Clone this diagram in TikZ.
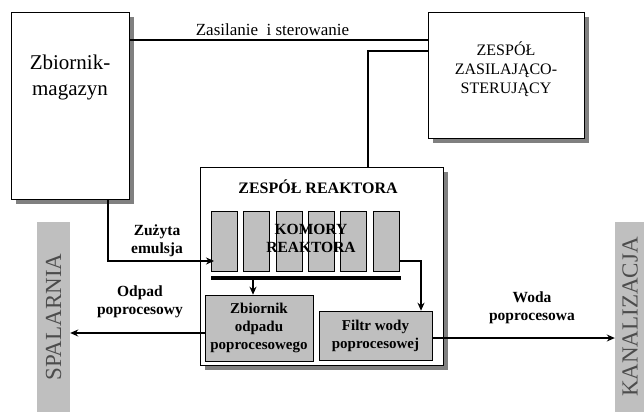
\documentclass[tikz,border=0pt]{standalone}
\usepackage{fontspec}
\setmainfont{Liberation Serif}
\usetikzlibrary{arrows.meta,shadows}
\tikzstyle{flow} = [line width=1.6pt, -{Stealth[length=8pt,width=7pt]}]
\tikzstyle{link} = [line width=1.6pt]
\tikzset{block/.style={draw=black, line width=0.6pt, fill=white, inner sep=0pt,
        drop shadow={shadow xshift=5pt, shadow yshift=-5pt, fill=box shadow, opacity=1}},
    unit/.style={draw=black, line width=0.6pt, fill=box area, inner sep=0pt, align=center,
        font=\fontsize{15}{18}\selectfont\bfseries},
    outlet/.style={fill=box area, rotate=90, inner sep=0pt, minimum width=190pt,
        text=black!70, font=\fontsize{23}{26}\selectfont},
    caption/.style={align=center, font=\fontsize{15.5}{18}\selectfont\bfseries}}

\begin{document}
\begin{tikzpicture}[x=1pt, y=-1pt]
    \colorlet{box area}{black!25}
    \colorlet{box shadow}{black!50}
    \useasboundingbox (0,0) rectangle (644,413);
    % Definition of main blocks
    \node[block, minimum width=118pt, minimum height=187pt] (mag) at (70,105.5) {};
    \node[align=center, font=\fontsize{21}{26}\selectfont] (magtext) at (70,77) {Zbiornik-\\magazyn};
    \node[block, minimum width=156pt, minimum height=126pt] (zasil) at (506,75) {};
    \node[align=center, font=\fontsize{16}{19}\selectfont] (zasiltext) at (506,69) {ZESPÓŁ\\ZASILAJĄCO-\\STERUJĄCY};
    \node[block, minimum width=243pt, minimum height=198pt] (reaktor) at (321.5,266) {};
    \node[caption, font=\fontsize{16}{18}\selectfont\bfseries] (reaktortext) at (318,187) {ZESPÓŁ REAKTORA};
    % Reactor chambers
    \foreach \i in {1,...,6}
        \node[unit, minimum width=26pt, minimum height=60pt] (ch\i) at ({224+(\i-1)*32.4},241) {};
    \node[caption] (komory) at (311,238) {KOMORY\\REAKTORA};
    \node[fill=black, inner sep=0pt, minimum width=190pt, minimum height=4pt] (bar) at (306,278) {};
    \node[unit, minimum width=108pt, minimum height=66pt] (waste) at (259,328) {Zbiornik\\odpadu\\poprocesowego};
    \node[unit, minimum width=113pt, minimum height=49pt] (filtr) at (375.5,335.5) {Filtr wody\\poprocesowej};
    % Outlets
    \node[outlet, minimum height=33pt] (spal) at (53.5,317) {SPALARNIA};
    \node[outlet, minimum height=30pt] (kanal) at (630,317) {KANALIZACJA};
    % Connectors
    \draw[link] (mag.east |- 0,40) -- node[above, pos=0.48, font=\fontsize{17}{19}\selectfont] (zasillabel) {Zasilanie~ i sterowanie} (zasil.west |- 0,40);
    \draw[link] (zasil.west |- 0,51) -| (reaktor.north -| 368,0);
    \coordinate (wlot) at (214,261);
    \draw[flow] (mag.south -| 108,0) |- (wlot);
    \node[caption] (emulsja) at (157,241) {Zużyta\\emulsja};
    \draw[flow] (bar.south -| 253,0) -- (waste.north -| 253,0);
    \draw[flow] (ch6.east |- 0,261) -| (filtr.north -| 421,0);
    \draw[flow] (waste.west |- 0,333) -- (spal.south |- 0,333);
    \node[caption] (odpad) at (140,302) {Odpad\\poprocesowy};
    \draw[flow] (filtr.east |- 0,338) -- (kanal.north |- 0,338);
    \node[caption] (woda) at (532,308) {Woda\\poprocesowa};
\end{tikzpicture}
\end{document}
